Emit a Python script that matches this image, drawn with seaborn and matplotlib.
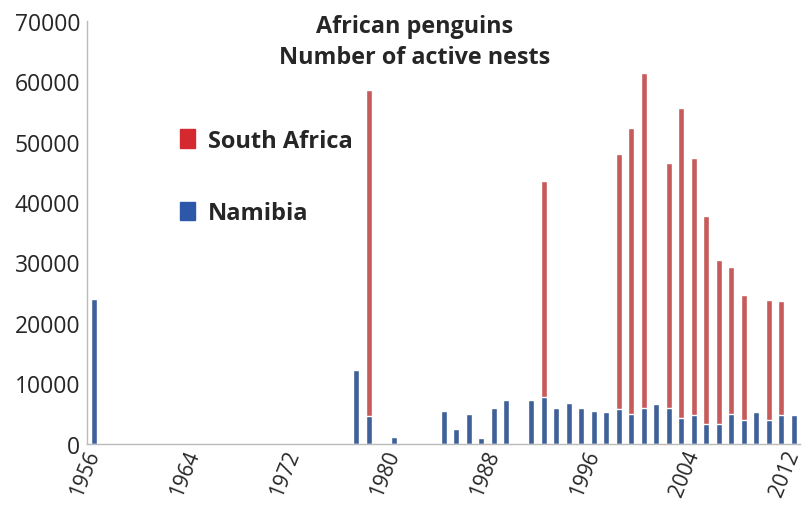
import pandas as pd
import matplotlib.pyplot as plt
import seaborn as sns
from matplotlib.patches import Patch

# nesting data
years = [1956, 1977, 1978, 1980, 1984, 1985, 1986, 1987, 1988, 1989,
         1991, 1992, 1993, 1994, 1995, 1996, 1997, 1998, 1999, 2000,
         2001, 2002, 2003, 2004, 2005, 2006, 2007, 2008, 2009, 2010,
         2011, 2012]
namibia = [24000, 12200, 4600, 1100, 5500, 2500, 5000, 1000, 5900, 7200,
           7300, 7700, 6000, 6700, 5900, 5500, 5300, 5700, 4900, 5900,
           6500, 5900, 4300, 4700, 3300, 3300, 4900, 4000, 5300, 3900,
           4700, 4800]
south_africa = [0, 0, 53900, 0, 0, 0, 0, 0, 0, 0,
                0, 35800, 0, 0, 0, 0, 0, 42300, 47300, 55500,
                0, 40500, 51200, 42600, 34400, 27100, 24400, 20700, 0, 19900,
                18900, 0]
tick_years = [1956, 1964, 1972, 1980, 1988, 1996, 2004, 2012]

all_years = list(range(1956, 2013))
df = pd.DataFrame({'Year': years, 'Namibia': namibia, 'South Africa': south_africa})
df = df.set_index('Year').reindex(all_years, fill_value=0).reset_index()
df['Total'] = df['Namibia'] + df['South Africa']
df['Year'] = pd.Categorical(df['Year'].astype(str), categories=[str(y) for y in all_years], ordered=True)

sns.set_style('white')
plt.rcParams['font.family'] = ['Open Sans', 'DejaVu Sans']

red = '#c75a5a'
blue = '#3f6199'

fig = plt.figure(figsize=(8.08, 5.06), dpi=100)
ax = fig.add_axes([0.108, 0.121, 0.882, 0.836])

# stacked look: total in red, Namibia drawn over it in blue
sns.barplot(data=df, x='Year', y='Total', color=red, width=0.48, saturation=1, ax=ax)
sns.barplot(data=df, x='Year', y='Namibia', color=blue, width=0.48, saturation=1, ax=ax)

ax.set_ylim(0, 70000)
ax.set_xlim(-0.35, len(all_years) - 0.6)
ax.set_yticks(range(0, 70001, 10000))
ax.set_yticklabels([str(v) for v in range(0, 70001, 10000)], fontsize=16.5)
ax.set_xticks([all_years.index(y) for y in tick_years])
ax.set_xticklabels([str(y) for y in tick_years], fontsize=15, rotation=68,
                   ha='right', va='center', rotation_mode='anchor')
ax.set_xticks([i + 0.5 for i in range(-1, len(all_years))], minor=True)
ax.tick_params(axis='x', which='major', length=0, pad=5)
ax.tick_params(axis='x', which='minor', length=4, color='#cccccc', width=0.8)
ax.tick_params(axis='y', length=3, color='#cccccc', pad=2)
ax.set_xlabel('')
ax.set_ylabel('')

for s in ['top', 'right']:
    ax.spines[s].set_visible(False)
for s in ['left', 'bottom']:
    ax.spines[s].set_color('#bbbbbb')
    ax.spines[s].set_linewidth(1)

fig.text(415 / 808, 1 - 15 / 506, 'African penguins\nNumber of active nests',
         ha='center', va='top', fontsize=16.8, fontweight='bold', linespacing=1.38)

handles = [Patch(color='#d42a2f', label='South Africa'), Patch(color='#2d57a8', label='Namibia')]
leg = ax.legend(handles=handles, loc='upper left', bbox_to_anchor=(0.1, 0.795),
                frameon=False, handlelength=0.65, handleheight=0.8, handletextpad=0.55,
                labelspacing=2.05, prop={'family': 'Open Sans', 'weight': 'bold', 'size': 17})

plt.savefig('out.png', dpi=100)
